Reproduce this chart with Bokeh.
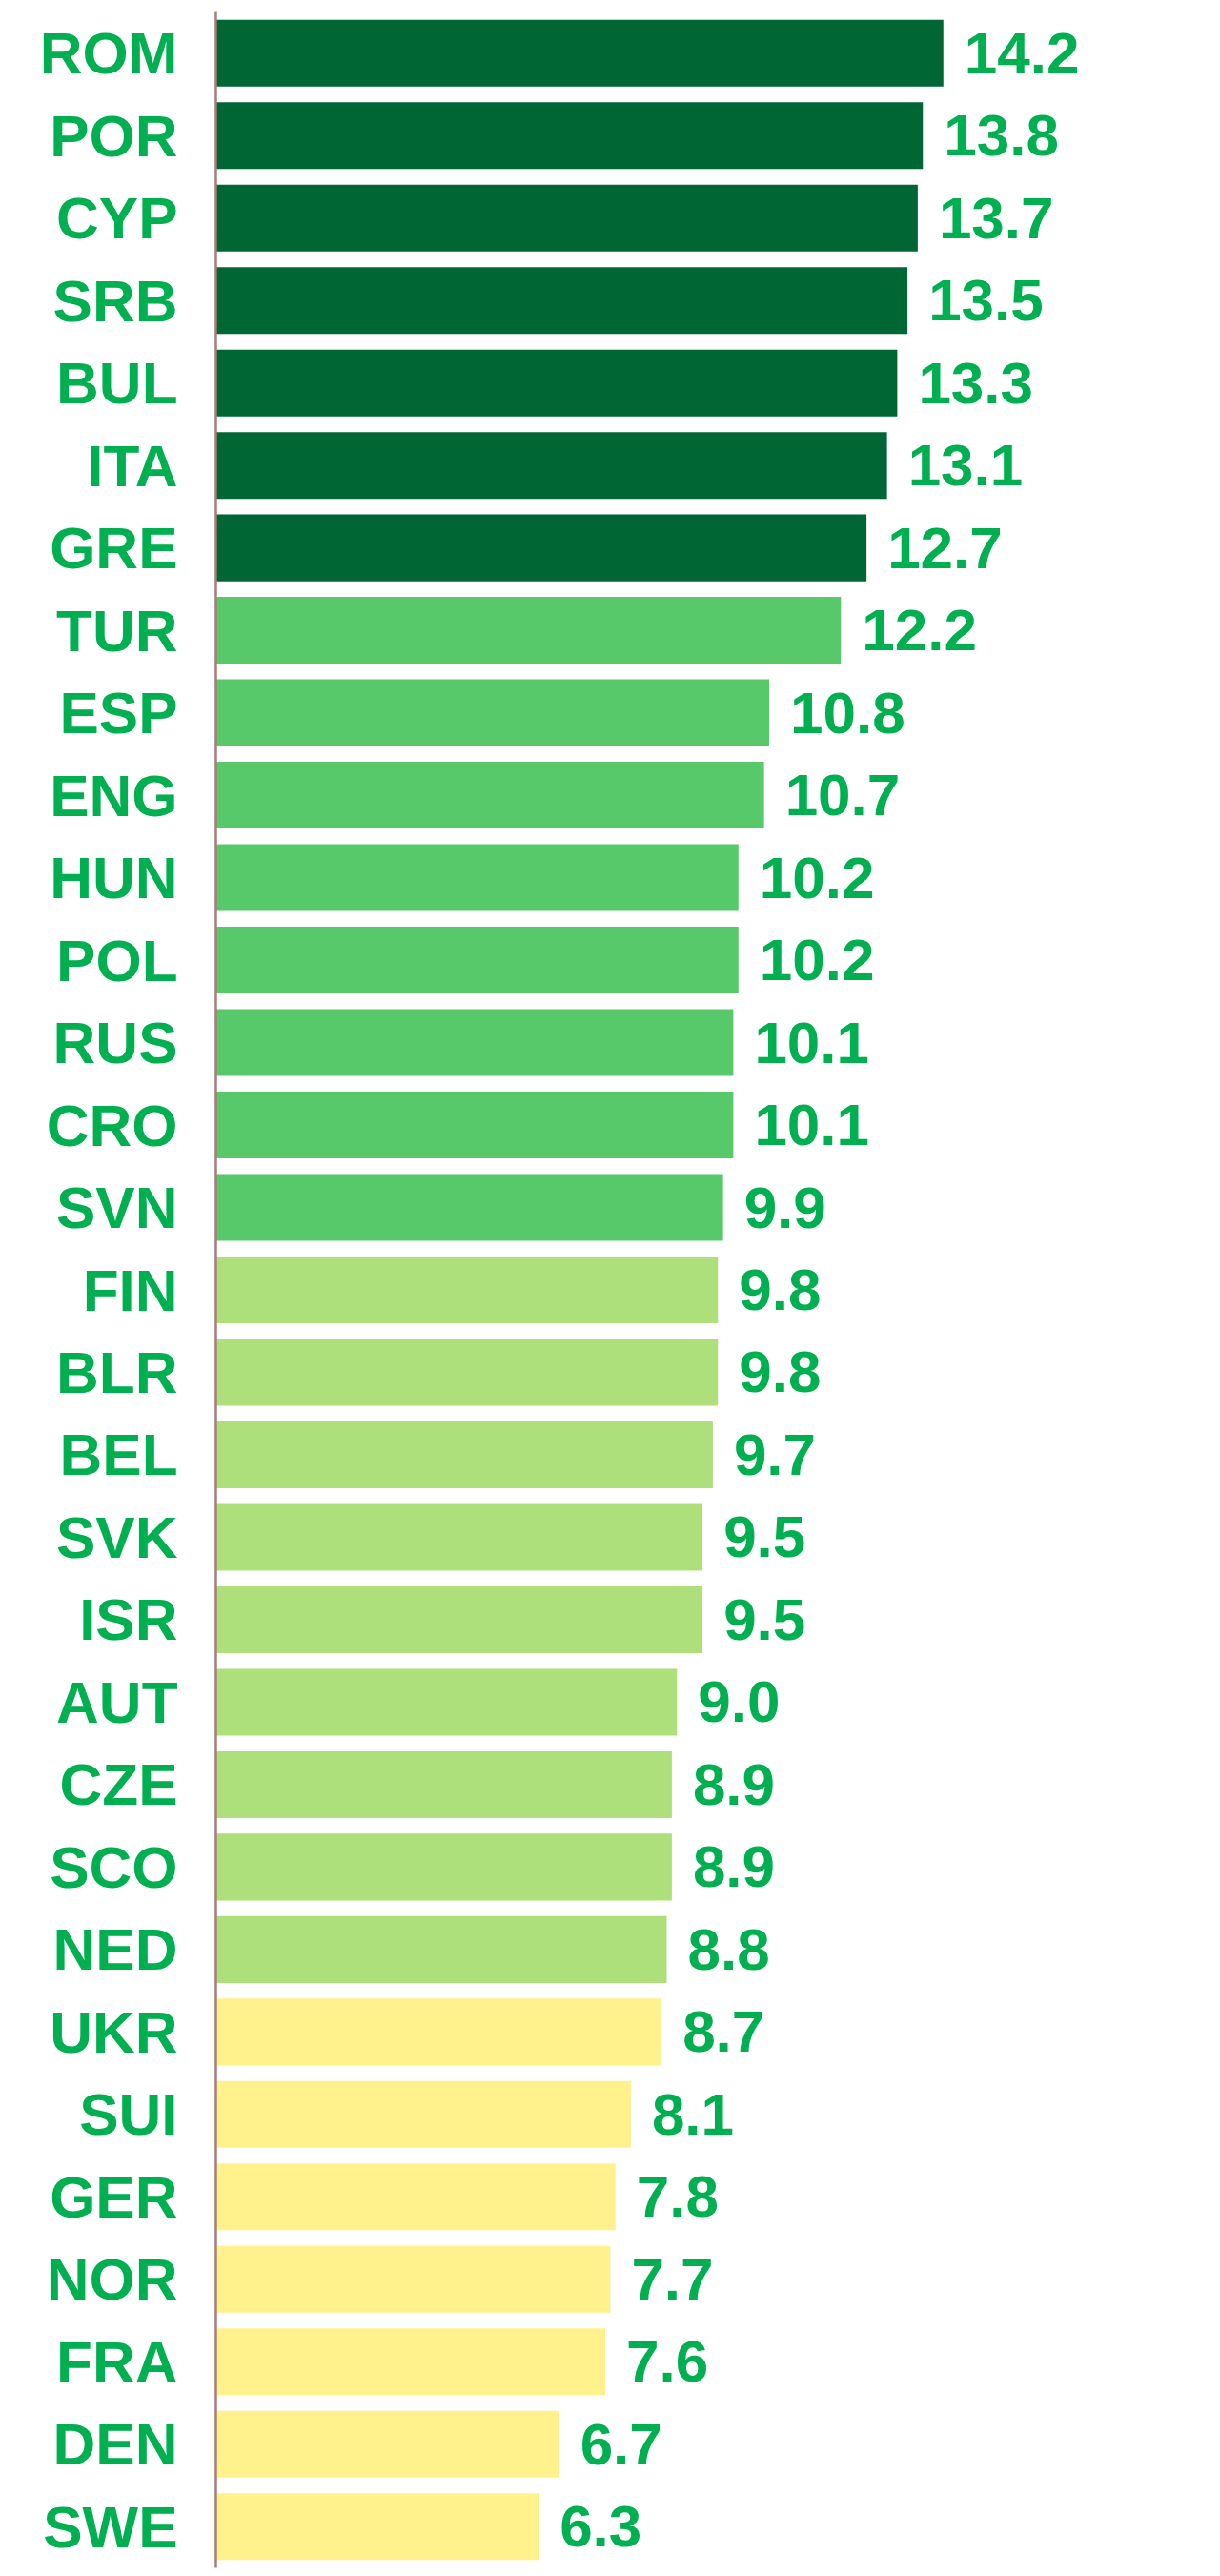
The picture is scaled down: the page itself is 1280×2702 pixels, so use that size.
from bokeh.plotting import figure
from bokeh.models import ColumnDataSource, FactorRange, Range1d
from bokeh.core.properties import value
from bokeh.embed import file_html
from bokeh.resources import INLINE

countries = ["ROM", "POR", "CYP", "SRB", "BUL", "ITA", "GRE", "TUR", "ESP", "ENG",
             "HUN", "POL", "RUS", "CRO", "SVN", "FIN", "BLR", "BEL", "SVK", "ISR",
             "AUT", "CZE", "SCO", "NED", "UKR", "SUI", "GER", "NOR", "FRA", "DEN", "SWE"]
values = [14.2, 13.8, 13.7, 13.5, 13.3, 13.1, 12.7, 12.2, 10.8, 10.7,
          10.2, 10.2, 10.1, 10.1, 9.9, 9.8, 9.8, 9.7, 9.5, 9.5,
          9.0, 8.9, 8.9, 8.8, 8.7, 8.1, 7.8, 7.7, 7.6, 6.7, 6.3]
group_sizes = [7, 8, 9, 7]
group_colors = ["#006633", "#57C96A", "#ADDF7B", "#FFF18B"]

colors = []
for n, c in zip(group_sizes, group_colors):
    colors += [c] * n
labels = [f"{v:.1f}" for v in values]

src = ColumnDataSource(dict(country=countries, val=values, color=colors, label=labels))

W, H = 1280, 2702
left = 226
px_per_unit = 53.75

p = figure(width=W, height=H, output_backend="svg", toolbar_location=None,
           y_range=FactorRange(factors=list(reversed(countries))),
           x_range=Range1d(0, (W - left) / px_per_unit),
           x_axis_type=None, min_border_left=left, min_border_right=0,
           min_border_top=12, min_border_bottom=9)
p.outline_line_color = None
p.xgrid.visible = False
p.ygrid.visible = False
p.background_fill_color = "white"
p.border_fill_color = "white"

p.hbar(y="country", left=0, right="val", height=0.81, fill_color="color",
       line_color=None, source=src)

p.text(x="val", y="country", text="label", x_offset=22, source=src,
       text_align="left", text_baseline="middle", text_color="#00B050",
       text_font=value("Liberation Sans"), text_font_style="bold",
       text_font_size="62px")

ax = p.yaxis[0]
ax.axis_line_color = "#A67C77"
ax.axis_line_width = 2.5
ax.major_tick_line_color = None
ax.minor_tick_line_color = None
ax.major_tick_out = 0
ax.major_tick_in = 0
ax.major_label_standoff = 40
ax.major_label_text_color = "#00B050"
ax.major_label_text_font = "Liberation Sans"
ax.major_label_text_font_style = "bold"
ax.major_label_text_font_size = "62px"

open("out.html", "w").write(file_html(p, INLINE))
